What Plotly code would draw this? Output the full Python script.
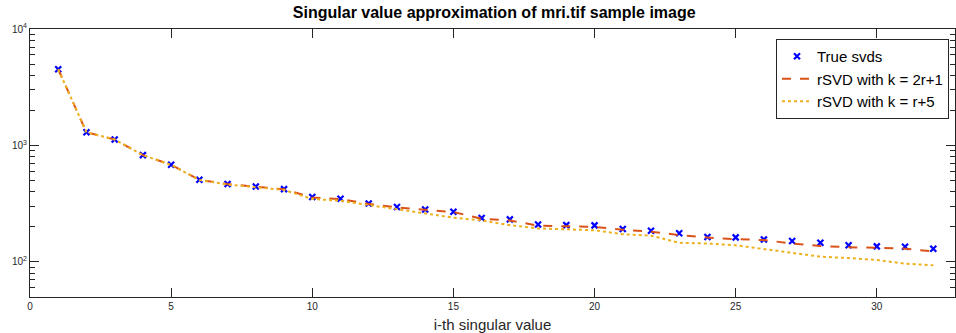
import plotly.graph_objects as go

idx = list(range(1, 33))
true_svds = [4510, 1300, 1125, 826, 682, 507, 466, 444, 422, 361,
             349, 318, 296, 282, 270, 238, 232, 210, 207, 206,
             192, 185, 176, 164, 162.6, 156, 151, 146, 139, 136,
             135, 130]
rsvd_2r1 = [4510, 1300, 1125, 826, 682, 507, 466, 444, 420, 357,
            347, 315, 294, 280, 268, 235, 227, 205, 204, 200,
            189, 182, 170, 162, 157, 154, 144, 137, 134, 132,
            130, 123]
rsvd_r5 = [4510, 1300, 1125, 826, 682, 505, 462, 440, 415, 347,
           335, 308, 284, 263, 240, 227, 207, 194, 190, 187,
           173, 168, 146, 144, 139, 129, 121, 111, 108, 104,
           96.7, 93.6]
ytick_vals = [100, 1000, 10000]
ytick_text = ["10<sup>2</sup>", "10<sup>3</sup>", "10<sup>4</sup>"]
xtick_vals = [0, 5, 10, 15, 20, 25, 30]

FONT = "Liberation Sans, Arial, Helvetica, sans-serif"
AX = "#262626"

fig = go.Figure()
fig.add_trace(go.Scatter(x=idx, y=true_svds, mode="markers", name="True svds",
                         marker=dict(symbol="x-thin", size=6, color="#0000ff",
                                     line=dict(width=2.2, color="#0000ff"))))
fig.add_trace(go.Scatter(x=idx, y=rsvd_2r1, mode="lines", name="rSVD with k = 2r+1",
                         line=dict(color="#D95319", width=2, dash="dash")))
fig.add_trace(go.Scatter(x=idx, y=rsvd_r5, mode="lines", name="rSVD with k = r+5",
                         line=dict(color="#EDB120", width=2, dash="dot")))

fig.update_layout(
    width=956, height=333,
    margin=dict(l=30, r=1, t=29, b=36, autoexpand=False),
    paper_bgcolor="white", plot_bgcolor="white",
    font=dict(family=FONT, color=AX),
    title=dict(text="<b>Singular value approximation of mri.tif sample image</b>",
               x=0.517, xanchor="center", y=1 - 12 / 333, yanchor="middle",
               font=dict(size=16, color="black")),
    showlegend=True,
    legend=dict(xref="paper", yref="paper", x=(776 - 30) / 925, y=(297 - 39) / 268,
                xanchor="left", yanchor="top", bgcolor="white",
                bordercolor=AX, borderwidth=1, font=dict(size=15, color="black"),
                tracegroupgap=0, itemwidth=30),
)
fig.update_xaxes(range=[0, 32.77], tickvals=xtick_vals, ticks="inside", ticklen=9,
                 tickcolor=AX, showline=True, linecolor=AX, linewidth=1, mirror="ticks",
                 showgrid=False, zeroline=False, tickfont=dict(size=10, color=AX),
                 title=dict(text="i-th singular value", font=dict(size=15, color=AX), standoff=12))
fig.update_yaxes(type="log", range=[1.69897, 4], tickvals=ytick_vals, ticktext=ytick_text,
                 ticks="inside", ticklen=9, tickcolor=AX, showline=True, linecolor=AX,
                 linewidth=1, mirror="ticks", showgrid=False, zeroline=False,
                 tickfont=dict(size=10, color=AX),
                 minor=dict(ticks="inside", ticklen=5, tickcolor=AX, dtick="D1", showgrid=False))

fig.write_html("out.html")
